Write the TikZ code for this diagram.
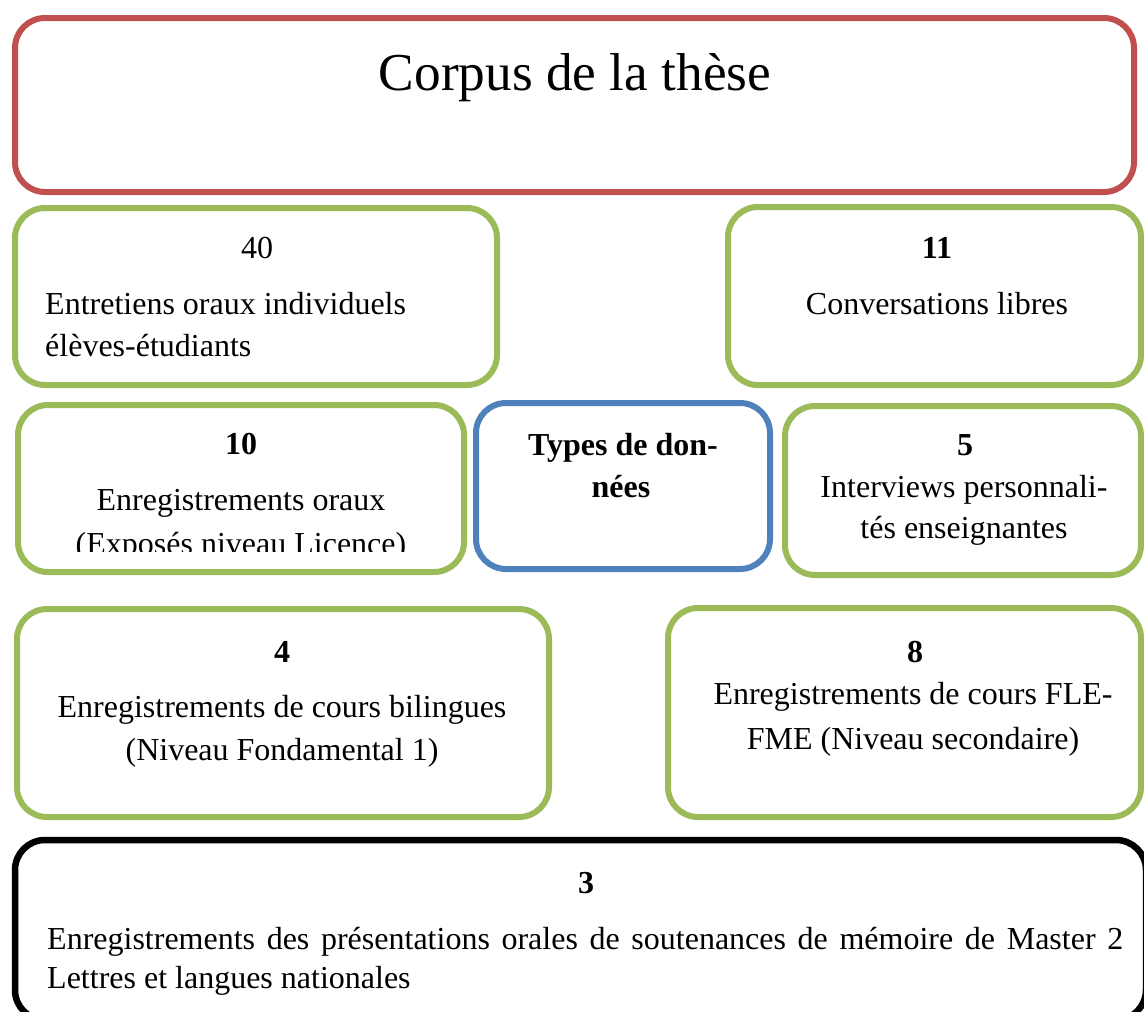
\documentclass[tikz,border=0pt]{standalone}
\usepackage{fontspec}
\setmainfont{Liberation Serif}
\definecolor{boxred}{HTML}{C0504D}
\definecolor{boxgreen}{HTML}{9BBB59}
\definecolor{boxblue}{HTML}{4F81BD}
\begin{document}
\begin{tikzpicture}[x=1pt,y=-1pt,
  frame/.style={draw, line width=6pt, rounded corners=30pt, inner sep=0pt, rectangle},
  redbox/.style={frame, draw=boxred},
  greenbox/.style={frame, draw=boxgreen},
  bluebox/.style={frame, draw=boxblue},
  blackbox/.style={frame, draw=black, line width=6.5pt},
  txt/.style={inner sep=0pt, anchor=base, font=\fontsize{32}{44}\selectfont},
  txtl/.style={txt, anchor=base west},
  num/.style={txt, font=\fontsize{32}{44}\selectfont\bfseries},
  title/.style={inner sep=0pt, anchor=base, font=\fontsize{53.3}{60}\selectfont}]
\useasboundingbox (0,0) rectangle (1144,1012);

% boxes
\node[redbox, minimum width=1119pt, minimum height=174pt] (corpus) at (574.5,105) {};
\node[greenbox, minimum width=482pt, minimum height=177pt] (b40) at (256,296.5) {};
\node[greenbox, minimum width=413pt, minimum height=178pt] (b11) at (934.5,296) {};
\node[greenbox, minimum width=446pt, minimum height=167pt] (b10) at (241,488.5) {};
\node[bluebox, minimum width=294pt, minimum height=166pt] (types) at (623,486) {};
\node[greenbox, minimum width=356pt, minimum height=169pt] (b5) at (963,490.5) {};
\node[greenbox, minimum width=532pt, minimum height=208pt] (b4) at (283,713) {};
\node[greenbox, minimum width=473pt, minimum height=209pt] (b8) at (904.5,712.5) {};
\node[blackbox, minimum width=1131pt, minimum height=180pt] (b3) at (580.5,930) {};

% texts
\node[title] (ttitle) at (575,90) {Corpus de la thèse};

\node[txt] (t40) at (257,258) {40};
\node[txtl] (tent) at (45,314) {Entretiens oraux individuels};
\node[txtl] (tele) at (45,356) {élèves-étudiants};

\node[num] (t11) at (937,258) {11};
\node[txt] (tconv) at (937,314) {Conversations libres};

\node[num] (t10) at (241,454) {10};
\node[txt] (tenr) at (241,510) {Enregistrements oraux};
\begin{scope}
  \clip (18,405) rectangle (464,551);
  \node[txt] (texp) at (241,554) {(Exposés niveau Licence)};
\end{scope}

\node[num] (ttypes) at (623,455) {Types de don-};
\node[num] (tnees) at (621,497) {nées};

\node[num] (t5) at (965,455) {5};
\node[txt] (tint) at (964,497) {Interviews personnali-};
\node[txt] (ttes) at (964,538) {tés enseignantes};

\node[num] (t4) at (282,662) {4};
\node[txt] (tbil) at (282,717) {Enregistrements de cours bilingues};
\node[txt] (tfond) at (282,760) {(Niveau Fondamental 1)};

\node[num] (t8) at (915,662) {8};
\node[txt] (tfle) at (913,704) {Enregistrements de cours FLE-};
\node[txt] (tfme) at (913,749) {FME (Niveau secondaire)};

\node[num] (t3) at (586,893) {3};
\node[txtl] (tpres) at (47,949) {\makebox[1076pt][s]{Enregistrements des présentations orales de soutenances de mémoire de Master 2}};
\node[txtl] (tlet) at (47,988) {Lettres et langues nationales};
\end{tikzpicture}
\end{document}
